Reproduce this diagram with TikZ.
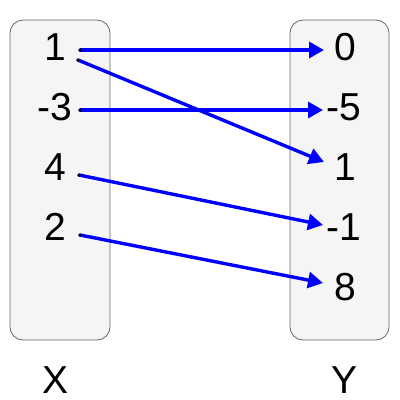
\documentclass[tikz,border=0pt]{standalone}
\usepackage{fontspec}
\setmainfont{Liberation Sans}
\usetikzlibrary{arrows.meta}
\definecolor{boxfill}{HTML}{F5F5F5}
\definecolor{boxline}{HTML}{666666}
\definecolor{arrblue}{HTML}{0000FF}
\begin{document}
\begin{tikzpicture}[x=1pt,y=-1pt,
  setbox/.style={draw=boxline,fill=boxfill,rounded corners=13pt,line width=0.8pt},
  lbl/.style={anchor=base,inner sep=0pt,font=\fontsize{39}{41}\selectfont},
  dotn/.style={circle,fill=black,inner sep=0pt,minimum size=3.5pt},
  maparrow/.style={draw=arrblue,line width=3.4pt,-{Triangle[length=15pt,width=16pt]}}]
\useasboundingbox (0,0) rectangle (400,400);
\path[setbox] (10,20) rectangle (110,340);
\path[setbox] (290,20) rectangle (389,340);
% left labels
\node[lbl] (x1) at (55,60) {1};
\node[lbl] (xm3) at (55,120) {-3};
\node[lbl] (x4) at (55,180) {4};
\node[lbl] (x2) at (55,240) {2};
% right labels
\node[lbl] (y0) at (345,60) {0};
\node[lbl] (ym5) at (344,120) {-5};
\node[lbl] (y1) at (345,180) {1};
\node[lbl] (ym1) at (344,240) {-1};
\node[lbl] (y8) at (345,300) {8};
% set labels
\node[lbl] (X) at (55.5,393) {X};
\node[lbl] (Y) at (345,393) {Y};
% dots
\node[dotn] (d1a) at (80,50) {};
\node[dotn] (d1b) at (78,60) {};
\node[dotn] (dm3) at (80,110) {};
\node[dotn] (d4) at (79,175) {};
\node[dotn] (d2) at (80,235) {};
% arrow ends
\coordinate (e0) at (324,50);
\coordinate (em5) at (323,110);
\coordinate (e1) at (324,162);
\coordinate (em1) at (323,225);
\coordinate (e8) at (323,283);
\draw[maparrow] (d1a.center) -- (e0);
\draw[maparrow] (d1b.center) -- (e1);
\draw[maparrow] (dm3.center) -- (em5);
\draw[maparrow] (d4.center) -- (em1);
\draw[maparrow] (d2.center) -- (e8);
% redraw dots on top
\fill (d1a) circle (1.75pt);
\fill (d1b) circle (1.75pt);
\fill (dm3) circle (1.75pt);
\fill (d4) circle (1.75pt);
\fill (d2) circle (1.75pt);
\end{tikzpicture}
\end{document}
